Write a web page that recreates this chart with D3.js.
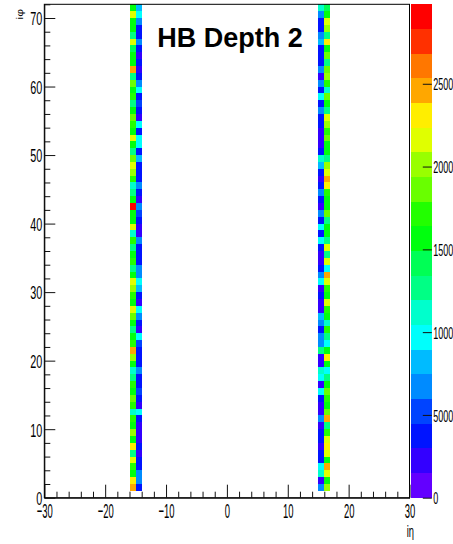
<!DOCTYPE html>
<html>
<head>
<meta charset="utf-8">
<script src="https://cdn.jsdelivr.net/npm/d3@7"></script>
<style>
  html, body { margin: 0; padding: 0; background: #fff; }
  svg { display: block; }
  text { font-family: "Liberation Sans", Arial, sans-serif; fill: #000; }
</style>
</head>
<body>
<svg id="chart" width="453" height="544"></svg>
<script>
// HB depth-2 occupancy: iη bins (low edges) and iφ rows
const etaBins = [-16, -15, 15, 16];
const phiBins = d3.range(1, 72); // iφ = 1 … 71

// Cell contents per iη column, listed from iφ = 1 upwards
const countsEtaM16 = [
  24900, 22400, 15900, 16800, 21900, 12300, 22600, 16200, 19400, 15400,
  17300, 11800, 16500, 19100, 15200, 16900, 12600, 11600, 15700, 19800,
  24600, 16400, 14900, 12900, 16100, 18800, 22100, 15600, 17100, 20100,
  21500, 15300, 12200, 16600, 15800, 12400, 16700, 11900, 22300, 15100,
  16300, 29800, 15900, 12100, 11400, 16400, 19600, 22000, 19000, 12700,
  15500, 21800, 16000, 17200, 19300, 15700, 12300, 16600, 15200, 18700,
  12000, 25300, 15600, 16200, 14800, 21400, 12800, 16100, 15400, 22200,
  16300
];
const countsEtaM15 = [
   3700,  6900,  7400,  4100,  3500,  2100,  3900,  1800,  2400,  2000,
   4300,  9400,  2200,  3600,  4800,  3800,  4000,  6600,  3400,  4400,
   3700,  5000,  9800,  2600,  3900,  7100,  9200,  2300,  4200,  7600,
   9900,  6800,  7300,  3800,  3600,  4200,  7000,  2200,  1900,  3700,
   4500,  7200,  2400,  3000,  6700,  3900,  4100,  3500,  7500,  3800,
   9600,  9300,  4000,  9700,  2100,  3600,  4600,  3900,  9500,  7300,
   4200,  2000,  3800,  1700,  4400,  7100,  3700,  4100,  6900,  9600,
   8200
];
const countsEtaP15 = [
   7000,  2300, 11200,  9500,  3800,  4300,  2100,  3600,  4000,  2400,
   7300,  1900,  2200,  3900,  9600,  2500,  9300, 11000,  2200,  2000,
  12600,  6800,  7400,  4100,  6900,  7700,  2300,  2600,  3800,  2100,
   9800,  7100,  3700,  2400,  2200,  3900,  9400,  4200,  9700,  3600,
   7200,  2000,  4000,  6900,  3800,  2300,  4400,  7500, 11300,  3700,
   2100,  2400,  1800,  3000,  4100,  7000,  3900,  9600,  4300,  7300,
   2200,  6800,  3500,  4100,  3800,  7600,  7100,  4000,  3700,  7200,
  10800
];
const countsEtaP16 = [
  19500, 16200, 22100, 24700, 15800, 21600, 22800, 21900, 16400, 12500,
  25100, 19200, 15600, 16900, 18900, 15400, 12100, 10200, 16300, 22400,
  15900,  9900, 12800, 16600, 11700, 15200, 16800, 21700, 15700, 17000,
  22300, 24500, 10100, 21800, 12300, 22000, 12600, 16100, 15500, 12400,
  19300, 16000, 15300, 16700, 22500, 25000, 21900, 19700, 12200, 16200,
  15800, 19000, 16500, 19400, 22200, 12700, 15600, 18800, 11900, 16400,
  19600, 19100, 12500, 19300, 15900, 22600, 12000, 19800, 21500, 16300,
  14200
];
const columns = [countsEtaM16, countsEtaM15, countsEtaP15, countsEtaP16];

// Axis ranges and tick values
const xDomain = [-30, 30];
const yDomain = [0, 72];
const xMajor = [-30, -20, -10, 0, 10, 20, 30];
const xMinor = d3.range(-30, 31, 2).filter(v => v % 10 !== 0);
const yMajor = [0, 10, 20, 30, 40, 50, 60, 70];
const yMinor = d3.range(0, 73, 2).filter(v => v % 10 !== 0);
const zMax = 29800;
const zTicks = [0, 5000, 10000, 15000, 20000, 25000];
const nLevels = 20;

const titleText = "HB Depth 2";
const xTitle = "iη";
const yTitle = "iφ";

// Frame geometry
const frame = { left: 44.3, right: 409.5, top: 4.3, bottom: 497.7 };
const bar = { left: 411.3, right: 431.8 };

const svg = d3.select("#chart");
svg.append("rect").attr("width", 453).attr("height", 544).attr("fill", "#fff");

const x = d3.scaleLinear().domain(xDomain).range([frame.left, frame.right]);
const y = d3.scaleLinear().domain(yDomain).range([frame.bottom, frame.top]);

// Rainbow palette: 50 hues from violet to red, sampled into 20 contour levels
const paletteHue = i => 280 - (i + 1) * (280 / 50);
const levelColors = d3.range(nLevels).map(k => {
  const idx = Math.floor((k + 0.99) * 50 / nLevels);
  return d3.hsl(paletteHue(idx), 1, 0.5).formatHex();
});
const color = d3.scaleQuantize().domain([0, zMax]).range(levelColors);

// Cells
const cells = [];
columns.forEach((col, ci) => {
  col.forEach((v, ri) => cells.push({ eta: etaBins[ci], phi: phiBins[ri], v }));
});
svg.append("g").selectAll("rect").data(cells).join("rect")
  .attr("x", d => x(d.eta))
  .attr("width", d => x(d.eta + 1) - x(d.eta))
  .attr("y", d => y(d.phi + 1))
  .attr("height", d => y(d.phi) - y(d.phi + 1))
  .attr("fill", d => color(Math.min(d.v, zMax - 1)))
  .attr("shape-rendering", "crispEdges");

// Frame
svg.append("rect")
  .attr("x", frame.left).attr("y", frame.top)
  .attr("width", frame.right - frame.left).attr("height", frame.bottom - frame.top)
  .attr("fill", "none").attr("stroke", "#000").attr("stroke-width", 1);

function styleAxis(g) {
  g.selectAll("path.domain").attr("stroke", "#000");
  g.selectAll(".tick line").attr("stroke", "#111");
  g.attr("font-family", null).attr("font-size", null);
}

// X axis (ticks drawn inward)
const gxMinor = svg.append("g").attr("transform", `translate(0,${frame.bottom})`)
  .call(d3.axisBottom(x).tickValues(xMinor).tickSize(-6).tickSizeOuter(0).tickFormat(""));
gxMinor.select("path.domain").remove();
gxMinor.selectAll(".tick line").attr("stroke", "#111");

const gx = svg.append("g").attr("transform", `translate(0,${frame.bottom})`)
  .call(d3.axisBottom(x).tickValues(xMajor).tickSize(-13).tickSizeOuter(0)
    .tickFormat(d => d < 0 ? "\u2212" + Math.abs(d) : String(d)));
styleAxis(gx);
const sxX = 0.45;
gx.selectAll(".tick text")
  .attr("y", 20.5).attr("dy", null)
  .attr("font-size", 21)
  .attr("transform", `scale(${sxX},1)`);

// Y axis
const gyMinor = svg.append("g").attr("transform", `translate(${frame.left},0)`)
  .call(d3.axisLeft(y).tickValues(yMinor).tickSize(-6).tickSizeOuter(0).tickFormat(""));
gyMinor.select("path.domain").remove();
gyMinor.selectAll(".tick line").attr("stroke", "#111");

const gy = svg.append("g").attr("transform", `translate(${frame.left},0)`)
  .call(d3.axisLeft(y).tickValues(yMajor).tickSize(-11).tickSizeOuter(0));
styleAxis(gy);
const sxY = 0.57;
gy.selectAll(".tick text")
  .attr("x", -2 / sxY)
  .attr("dy", "0.36em")
  .attr("font-size", 19)
  .attr("transform", `scale(${sxY},1)`);

// Axis titles
svg.append("text")
  .attr("text-anchor", "end")
  .attr("font-size", 17)
  .attr("transform", `translate(414,537) scale(0.55,1)`)
  .text(xTitle);
svg.append("text")
  .attr("text-anchor", "end")
  .attr("font-size", 12)
  .attr("transform", `translate(23,9) rotate(-90) scale(1,0.75)`)
  .text(yTitle);

// Colour scale bar
const z = d3.scaleLinear().domain([0, zMax]).range([frame.bottom, frame.top]);
const levelEdges = d3.range(nLevels + 1).map(k => k * zMax / nLevels);
svg.append("g").selectAll("rect").data(d3.range(nLevels)).join("rect")
  .attr("x", bar.left)
  .attr("width", bar.right - bar.left)
  .attr("y", k => z(levelEdges[k + 1]))
  .attr("height", k => z(levelEdges[k]) - z(levelEdges[k + 1]))
  .attr("fill", k => levelColors[k])
  .attr("shape-rendering", "crispEdges");

const gz = svg.append("g").attr("transform", `translate(${bar.right},0)`)
  .call(d3.axisRight(z).tickValues(zTicks).tickSize(-9).tickSizeOuter(0).tickFormat(d3.format("d")));
gz.select("path.domain").remove();
gz.selectAll(".tick line").attr("stroke", "#111");
gz.attr("font-family", null).attr("font-size", null);
const sxZ = 0.53;
gz.selectAll(".tick text")
  .attr("x", 1.5 / sxZ)
  .attr("dy", "0.36em")
  .attr("font-size", 17)
  .attr("transform", `scale(${sxZ},1)`);

// Title
svg.append("text")
  .attr("x", 230).attr("y", 47)
  .attr("text-anchor", "middle")
  .attr("font-family", "Lato, 'Open Sans', sans-serif")
  .attr("font-weight", "bold")
  .attr("font-size", 27)
  .text(titleText);
</script>
</body>
</html>
